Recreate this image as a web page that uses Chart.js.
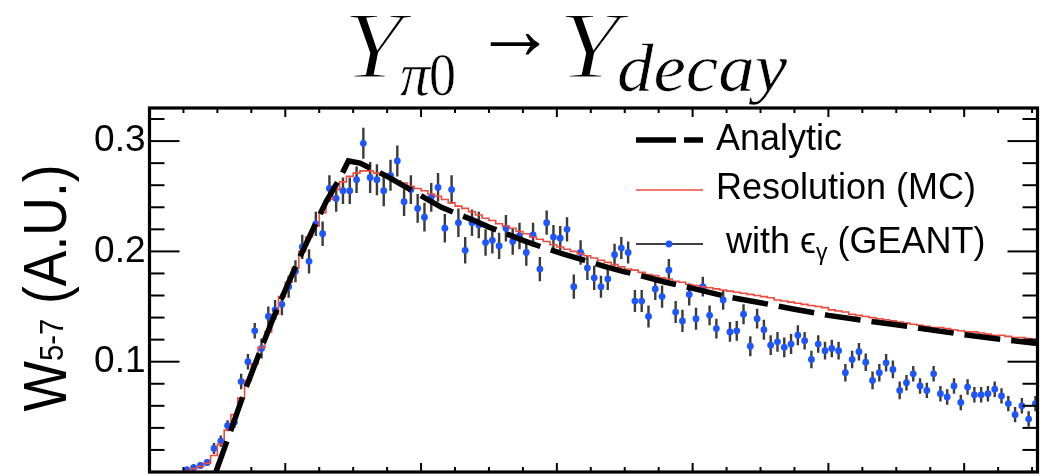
<!DOCTYPE html>
<html>
<head>
<meta charset="UTF-8">
<title>W5-7 decay</title>
<script src="https://cdn.jsdelivr.net/npm/chart.js@4.4.1/dist/chart.umd.min.js"></script>
<style>
  html, body { margin: 0; padding: 0; background: #fff; }
  #box { width: 1056px; height: 476px; }
</style>
</head>
<body>
<div id="box"><canvas id="c"></canvas></div>
<script>
// bins 0..130, one unit = one bin
var nBins = 131;

// data points with eps_gamma (GEANT), null = no point
var dataVals = [
  null, null, null, null, null, 0.002, 0.004, 0.006, 0.0086, 0.0214,
  0.028, 0.042, 0.045, 0.082, 0.100, 0.128, 0.112, 0.141, 0.147, 0.152,
  0.168, 0.182, 0.204, 0.191, 0.225, 0.216, 0.257, 0.248, 0.255, 0.255,
  0.265, 0.298, 0.267, 0.265, 0.255, 0.269, 0.282, 0.245, 0.256, 0.239,
  0.231, 0.249, 0.258, 0.221, 0.256, 0.226, 0.201, 0.226, 0.224, 0.208,
  0.210, 0.205, 0.221, 0.209, 0.214, 0.199, 0.215, 0.184, 0.226, 0.213,
  0.212, 0.220, 0.168, 0.199, 0.185, 0.176, 0.168, 0.175, 0.197, 0.203,
  0.199, 0.155, 0.155, 0.141, 0.166, 0.159, 0.183, 0.145, 0.137, 0.161,
  0.139, 0.168, 0.142, 0.130, 0.156, 0.127, 0.128, 0.143, 0.114, 0.139,
  0.129, 0.115, 0.118, 0.113, 0.116, 0.124, 0.119, 0.102, 0.116, 0.110,
  0.112, 0.110, 0.090, 0.102, 0.109, 0.0995, 0.083, 0.090, 0.099, 0.093,
  0.074, 0.081, 0.089, 0.078, 0.074, 0.089, 0.071, 0.068, 0.078, 0.063,
  0.077, 0.070, 0.070, 0.071, 0.075, 0.069, 0.062, 0.052, 0.060, 0.048,
  0.062
];

var dataErr = [
  0, 0, 0, 0, 0, 0.003, 0.003, 0.003, 0.003, 0.005,
  0.005, 0.005, 0.005, 0.007, 0.007, 0.007, 0.009, 0.009, 0.009, 0.010,
  0.010, 0.010, 0.011, 0.011, 0.011, 0.011, 0.012, 0.012, 0.012, 0.012,
  0.012, 0.014, 0.014, 0.014, 0.014, 0.014, 0.014, 0.013, 0.013, 0.013,
  0.013, 0.013, 0.013, 0.013, 0.013, 0.013, 0.012, 0.012, 0.012, 0.012,
  0.012, 0.012, 0.012, 0.012, 0.012, 0.012, 0.011, 0.011, 0.011, 0.011,
  0.011, 0.011, 0.011, 0.011, 0.011, 0.011, 0.010, 0.010, 0.010, 0.010,
  0.010, 0.010, 0.010, 0.010, 0.010, 0.010, 0.010, 0.010, 0.010, 0.010,
  0.010, 0.009, 0.009, 0.009, 0.009, 0.009, 0.009, 0.009, 0.009, 0.009,
  0.009, 0.009, 0.009, 0.009, 0.009, 0.009, 0.008, 0.008, 0.008, 0.008,
  0.008, 0.008, 0.008, 0.008, 0.008, 0.008, 0.008, 0.008, 0.008, 0.008,
  0.008, 0.007, 0.007, 0.007, 0.007, 0.007, 0.007, 0.007, 0.007, 0.007,
  0.007, 0.007, 0.007, 0.007, 0.007, 0.007, 0.007, 0.007, 0.007, 0.007,
  0.007
];

// Resolution (MC) histogram, one value per bin
var resoVals = [
  0, 0, 0, 0, 0, 0.001, 0.003, 0.005, 0.008, 0.015,
  0.025, 0.038, 0.052, 0.067, 0.083, 0.098, 0.113, 0.127, 0.143, 0.159,
  0.172, 0.185, 0.200, 0.213, 0.223, 0.235, 0.247, 0.256, 0.263, 0.268,
  0.271, 0.273, 0.273, 0.271, 0.269, 0.267, 0.264, 0.262, 0.259, 0.257,
  0.255, 0.252, 0.250, 0.247, 0.244, 0.241, 0.239, 0.236, 0.233, 0.230,
  0.228, 0.225, 0.223, 0.221, 0.218, 0.216, 0.213, 0.211, 0.209, 0.206,
  0.204, 0.202, 0.200, 0.198, 0.196, 0.194, 0.192, 0.190, 0.188, 0.186,
  0.184, 0.183, 0.181, 0.179, 0.178, 0.176, 0.175, 0.173, 0.172, 0.170,
  0.169, 0.168, 0.167, 0.166, 0.165, 0.164, 0.163, 0.162, 0.161, 0.160,
  0.159, 0.158, 0.156, 0.155, 0.154, 0.153, 0.152, 0.151, 0.150, 0.149,
  0.147, 0.146, 0.145, 0.143, 0.142, 0.141, 0.140, 0.139, 0.138, 0.137,
  0.136, 0.135, 0.134, 0.133, 0.132, 0.131, 0.131, 0.130, 0.129, 0.128,
  0.127, 0.127, 0.126, 0.125, 0.124, 0.124, 0.123, 0.122, 0.122, 0.121,
  0.120
];

// Analytic curve (x in bins)
var anaX = [9.6, 12, 14, 16, 18, 20, 22, 24, 26, 28, 29.3, 31, 33, 35, 37, 39, 41, 43, 45, 48,
  50, 53, 55, 58, 61, 64, 67, 70, 73, 76, 80, 85, 90, 95, 100, 105, 110, 115, 120, 125, 130.8];
var anaY = [-0.003, 0.038, 0.073, 0.105, 0.136, 0.165, 0.193, 0.219, 0.245, 0.266, 0.282, 0.280, 0.274, 0.268, 0.261, 0.254, 0.247, 0.240, 0.235, 0.2275,
  0.222, 0.215, 0.210, 0.2035, 0.1975, 0.192, 0.1865, 0.1815, 0.177, 0.172, 0.1665, 0.159, 0.1535, 0.1475, 0.142, 0.1375, 0.1335, 0.129, 0.1245, 0.1205, 0.1165];

var legendNames = ['Analytic', 'Resolution (MC)', ' with \u03F5', '\u03B3', ' (GEANT)'];

var blue = '#1f55ff';
var red = '#f04a3e';

var ptsData = [], ptsErr = [];
for (var i = 0; i < nBins; i++) {
  if (dataVals[i] !== null) {
    ptsData.push({x: i + 0.5, y: dataVals[i]});
    ptsErr.push(dataErr[i]);
  }
}
var resoData = resoVals.map(function(v, i) { return {x: i, y: v}; });
resoData.push({x: nBins, y: resoVals[nBins - 1]});
var anaData = anaX.map(function(x, i) { return {x: x, y: anaY[i]}; });

// error bars under the points
var errBars = {
  id: 'errBars',
  beforeDatasetDraw: function(chart, args) {
    if (args.index !== 0) return;
    var ctx = chart.ctx, y = chart.scales.y, a = chart.chartArea;
    ctx.save();
    ctx.beginPath(); ctx.rect(a.left, a.top, a.width, a.height); ctx.clip();
    ctx.strokeStyle = '#3a3a3a';
    ctx.lineWidth = 2.4;
    args.meta.data.forEach(function(el, k) {
      var v = ptsData[k].y, e = ptsErr[k];
      ctx.beginPath();
      ctx.moveTo(el.x, y.getPixelForValue(v - e));
      ctx.lineTo(el.x, y.getPixelForValue(v + e));
      ctx.stroke();
    });
    ctx.restore();
  }
};

function seg(ctx, x1, y1, x2, y2) {
  ctx.beginPath(); ctx.moveTo(x1, y1); ctx.lineTo(x2, y2); ctx.stroke();
}

// text squeezed/stretched to a given width, optionally thinned with a white edge
function fitText(ctx, txt, font, x, base, w, thin) {
  ctx.font = font;
  var m = ctx.measureText(txt).width;
  ctx.save();
  ctx.translate(x, base);
  ctx.scale(w / m, 1);
  ctx.fillText(txt, 0, 0);
  if (thin) {
    ctx.strokeStyle = '#fff';
    ctx.lineWidth = thin;
    ctx.strokeText(txt, 0, 0);
  }
  ctx.restore();
}

// ROOT style frame, ticks, legend, titles
var decor = {
  id: 'decor',
  afterDatasetsDraw: function(chart) {
    var ctx = chart.ctx, a = chart.chartArea, x = chart.scales.x, y = chart.scales.y;
    ctx.save();
    ctx.strokeStyle = '#000';
    ctx.lineWidth = 2;
    for (var k = 0; k <= 16; k++) {
      var py = y.getPixelForValue(k * 0.02);
      var len = (k % 5 === 0) ? 30 : 15;
      seg(ctx, a.left, py, a.left + len, py);
      seg(ctx, a.right, py, a.right - len, py);
    }
    for (var b = 0; b <= 130; b += 5) {
      var px = x.getPixelForValue(b);
      var l2 = (b % 20 === 0) ? 9 : 5;
      seg(ctx, px, a.top, px, a.top + l2);
      seg(ctx, px, a.bottom, px, a.bottom - l2);
    }
    ctx.lineWidth = 3.2;
    ctx.strokeRect(a.left, a.top, a.width, a.height);

    // legend
    var lx0 = 636, lx1 = 703, tx = 716;
    var lf = '36px "Liberation Sans", Arial, sans-serif';
    ctx.fillStyle = '#000';
    ctx.textBaseline = 'middle';
    ctx.font = lf;
    ctx.lineWidth = 5.5;
    ctx.setLineDash([40, 8]);
    seg(ctx, lx0, 140, lx1, 140);
    ctx.setLineDash([]);
    ctx.fillText(legendNames[0], tx, 140);

    ctx.strokeStyle = red; ctx.lineWidth = 1.6;
    seg(ctx, lx0, 190, lx1, 190);
    ctx.fillText(legendNames[1], tx, 189);

    ctx.strokeStyle = '#000'; ctx.lineWidth = 1.6;
    seg(ctx, lx0, 244, lx1, 244);
    ctx.fillStyle = blue;
    ctx.beginPath(); ctx.arc(669, 244, 3.4, 0, Math.PI * 2); ctx.fill();
    ctx.fillStyle = '#000';
    var cx = tx;
    ctx.fillText(legendNames[2], cx, 243);
    cx += ctx.measureText(legendNames[2]).width;
    ctx.font = '23px "Liberation Sans", Arial, sans-serif';
    ctx.fillText(legendNames[3], cx, 254);
    cx += ctx.measureText(legendNames[3]).width;
    ctx.font = lf;
    ctx.fillText(legendNames[4], cx, 243);

    // y axis title, rotated
    ctx.save();
    ctx.translate(66, 288);
    ctx.rotate(-Math.PI / 2);
    ctx.textBaseline = 'alphabetic';
    var big = '62px "Liberation Sans", Arial, sans-serif';
    var sm = '34px "Liberation Sans", Arial, sans-serif';
    var parts = [['W', big, 0], ['5-7', sm, -3], [' (A.U.)', big, 0]];
    var tot = 0;
    parts.forEach(function(p) { ctx.font = p[1]; tot += ctx.measureText(p[0]).width; });
    ctx.scale(247 / tot, 1);
    var ox = -tot / 2;
    parts.forEach(function(p) {
      ctx.font = p[1];
      ctx.fillText(p[0], ox, p[2]);
      ox += ctx.measureText(p[0]).width;
    });
    ctx.restore();

    // main title
    ctx.textBaseline = 'alphabetic';
    fitText(ctx, 'Y', 'italic 96px "Liberation Serif", serif', 343, 78, 60, 2.2);
    fitText(ctx, '\u03C0', 'italic 62px "Liberation Serif", serif', 400, 95, 30, 0.6);
    fitText(ctx, '0', '62px "Liberation Serif", serif', 429, 95, 27, 0.6);
    fitText(ctx, '\u2192', '88px "Liberation Serif", serif', 474, 59, 82, 0);
    fitText(ctx, 'Y', 'italic 96px "Liberation Serif", serif', 558, 78, 62, 2.2);
    fitText(ctx, 'decay', 'italic 68px "Liberation Serif", serif', 617, 91, 170, 0.6);
    ctx.restore();
  }
};

var chart = new Chart(document.getElementById('c'), {
  type: 'scatter',
  data: {
    datasets: [
      {
        label: 'with eps_gamma (GEANT)',
        data: ptsData,
        showLine: false,
        pointRadius: 3.4,
        pointBackgroundColor: blue,
        pointBorderWidth: 0,
        order: 2
      },
      {
        label: 'Resolution (MC)',
        data: resoData,
        showLine: true,
        stepped: true,
        borderColor: red,
        borderWidth: 1.6,
        pointRadius: 0,
        fill: false,
        order: 1
      },
      {
        label: 'Analytic',
        data: anaData,
        showLine: true,
        borderColor: '#000',
        borderWidth: 5.5,
        borderDash: [36, 11],
        pointRadius: 0,
        tension: 0,
        fill: false,
        order: 0
      }
    ]
  },
  options: {
    responsive: true,
    maintainAspectRatio: false,
    animation: false,
    layout: { padding: { top: 108, right: 18.5, bottom: 1.6, left: 0 } },
    plugins: { legend: { display: false }, tooltip: { enabled: false } },
    scales: {
      x: { type: 'linear', display: false, min: 0, max: 130.8 },
      y: {
        type: 'linear', min: 0, max: 0.33,
        afterFit: function(s) { s.width = 149.5; s.paddingTop = 0; s.paddingBottom = 0; },
        grid: { display: false, drawTicks: false },
        border: { display: false },
        ticks: {
          stepSize: 0.1, includeBounds: false, padding: 4, color: '#000',
          font: { family: '"Liberation Sans", Arial, sans-serif', size: 37 },
          callback: function(v) { return v === 0 ? '' : v.toFixed(1); }
        }
      }
    }
  },
  plugins: [errBars, decor]
});
</script>
</body>
</html>
